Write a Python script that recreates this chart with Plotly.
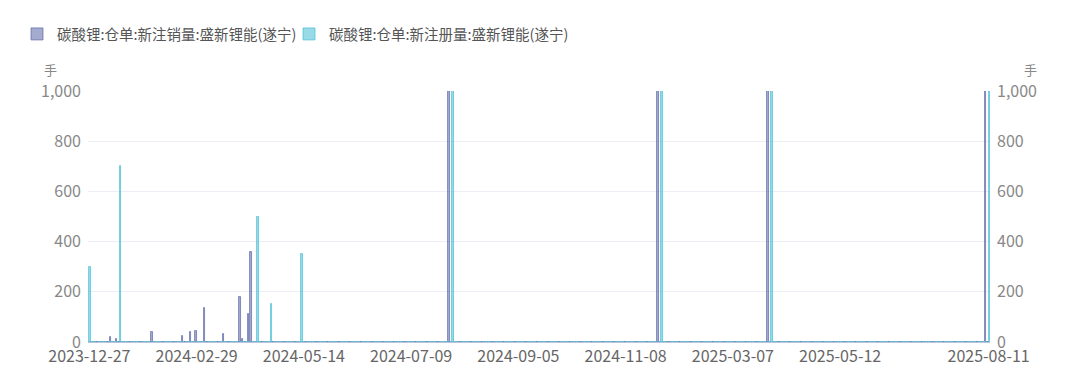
import pandas as pd
import numpy as np
import plotly.graph_objects as go

# ---- data ----
tick_labels = ["2023-12-27", "2024-02-29", "2024-05-14", "2024-07-09", "2024-09-05",
               "2024-11-08", "2025-03-07", "2025-05-12", "2025-08-11"]
seg_counts = [39, 39, 39, 39, 39, 39, 39, 54]   # number of dates from one label to the next

# sparse series: category index -> value
sales_idx = [8, 10, 23, 34, 37, 39, 42, 49, 55, 56, 58, 59, 131, 207, 247, 326]
sales_val = [20, 10, 40, 25, 40, 45, 135, 30, 180, 10, 110, 360, 1000, 1000, 1000, 1000]

reg_idx = [0, 11, 61, 66, 77, 132, 208, 248, 327]
reg_val = [300, 700, 500, 150, 350, 1000, 1000, 1000, 1000]

name_sales = "碳酸锂:仓单:新注销量:盛新锂能(遂宁)"
name_reg = "碳酸锂:仓单:新注册量:盛新锂能(遂宁)"
y_ticks = [0, 200, 400, 600, 800, 1000]
unit = "手"

# ---- build categories (dates) ----
dates = []
for i, n in enumerate(seg_counts):
    bd = pd.bdate_range(tick_labels[i], tick_labels[i + 1], inclusive="left")
    pick = np.unique(np.round(np.linspace(0, len(bd) - 1, n)).astype(int))
    dates += [d.strftime("%Y-%m-%d") for d in bd[pick]]
dates.append(tick_labels[-1])
N = len(dates)

sales = [0] * N
for i, v in zip(sales_idx, sales_val):
    sales[i] = v
reg = [0] * N
for i, v in zip(reg_idx, reg_val):
    reg[i] = v

FONT = "Microsoft YaHei, Noto Sans CJK SC, Noto Sans, sans-serif"

fig = go.Figure()
fig.add_trace(go.Bar(x=dates, y=sales, name=name_sales, legend="legend",
                     marker=dict(color="rgba(90,102,166,0.55)",
                                 line=dict(color="rgba(90,102,166,0.75)", width=0.9))))
fig.add_trace(go.Bar(x=dates, y=reg, name=name_reg, legend="legend2",
                     marker=dict(color="rgba(69,188,212,0.55)",
                                 line=dict(color="rgba(69,188,212,0.75)", width=0.9))))
fig.add_trace(go.Scatter(x=[dates[0]], y=[0], yaxis="y2", mode="markers",
                         marker=dict(opacity=0), showlegend=False, hoverinfo="skip"))

# the page adds an 8px body margin; plot area on screen: x 88..990, y 91..342
OFF = 8
L, R, T, B = 88 - OFF, 1080 + OFF - 990, 91 - OFF, 392 + OFF - 342
pw, ph = 990 - 88, 342 - 91

legend_common = dict(orientation="h", xref="container", yref="container",
                     xanchor="left", yanchor="middle", bgcolor="rgba(0,0,0,0)",
                     font=dict(size=14.5, color="#555555"))

fig.update_layout(
    width=1080, height=392,
    margin=dict(l=L, r=R, t=T, b=B, autoexpand=False),
    paper_bgcolor="white", plot_bgcolor="white",
    barmode="group", bargap=0.0, bargroupgap=0.0,
    font=dict(family=FONT, size=14, color="#666666"),
    legend=dict(x=(17 - OFF) / 1080, y=1 - (34 - OFF) / 392, **legend_common),
    legend2=dict(x=(289 - OFF) / 1080, y=1 - (34 - OFF) / 392, **legend_common),
    xaxis=dict(type="category", range=[-0.5, N - 0.5], automargin=False,
               tickmode="array", tickvals=tick_labels, ticktext=tick_labels,
               showgrid=False, showline=True, linecolor="#b9c3dc", linewidth=1,
               ticks="", tickfont=dict(size=16, color="#666666")),
    yaxis=dict(range=[0, 1000], tickvals=y_ticks, automargin=False,
               tickformat=",", showgrid=True, gridcolor="#eceef6", zeroline=False,
               tickfont=dict(size=16, color="#888888"), ticks="", ticklabelstandoff=6),
    yaxis2=dict(range=[0, 1000], tickvals=y_ticks, automargin=False,
                tickformat=",", overlaying="y", side="right", showgrid=False,
                zeroline=False, tickfont=dict(size=16, color="#888888"), ticks="",
                ticklabelstandoff=6),
)
for px in (50, 1030):
    fig.add_annotation(text=unit, x=(px - 88) / pw, y=(342 - 69) / ph,
                       xref="paper", yref="paper", showarrow=False,
                       xanchor="center", yanchor="middle",
                       font=dict(size=13, color="#888888"))

fig.write_html("out.html")
